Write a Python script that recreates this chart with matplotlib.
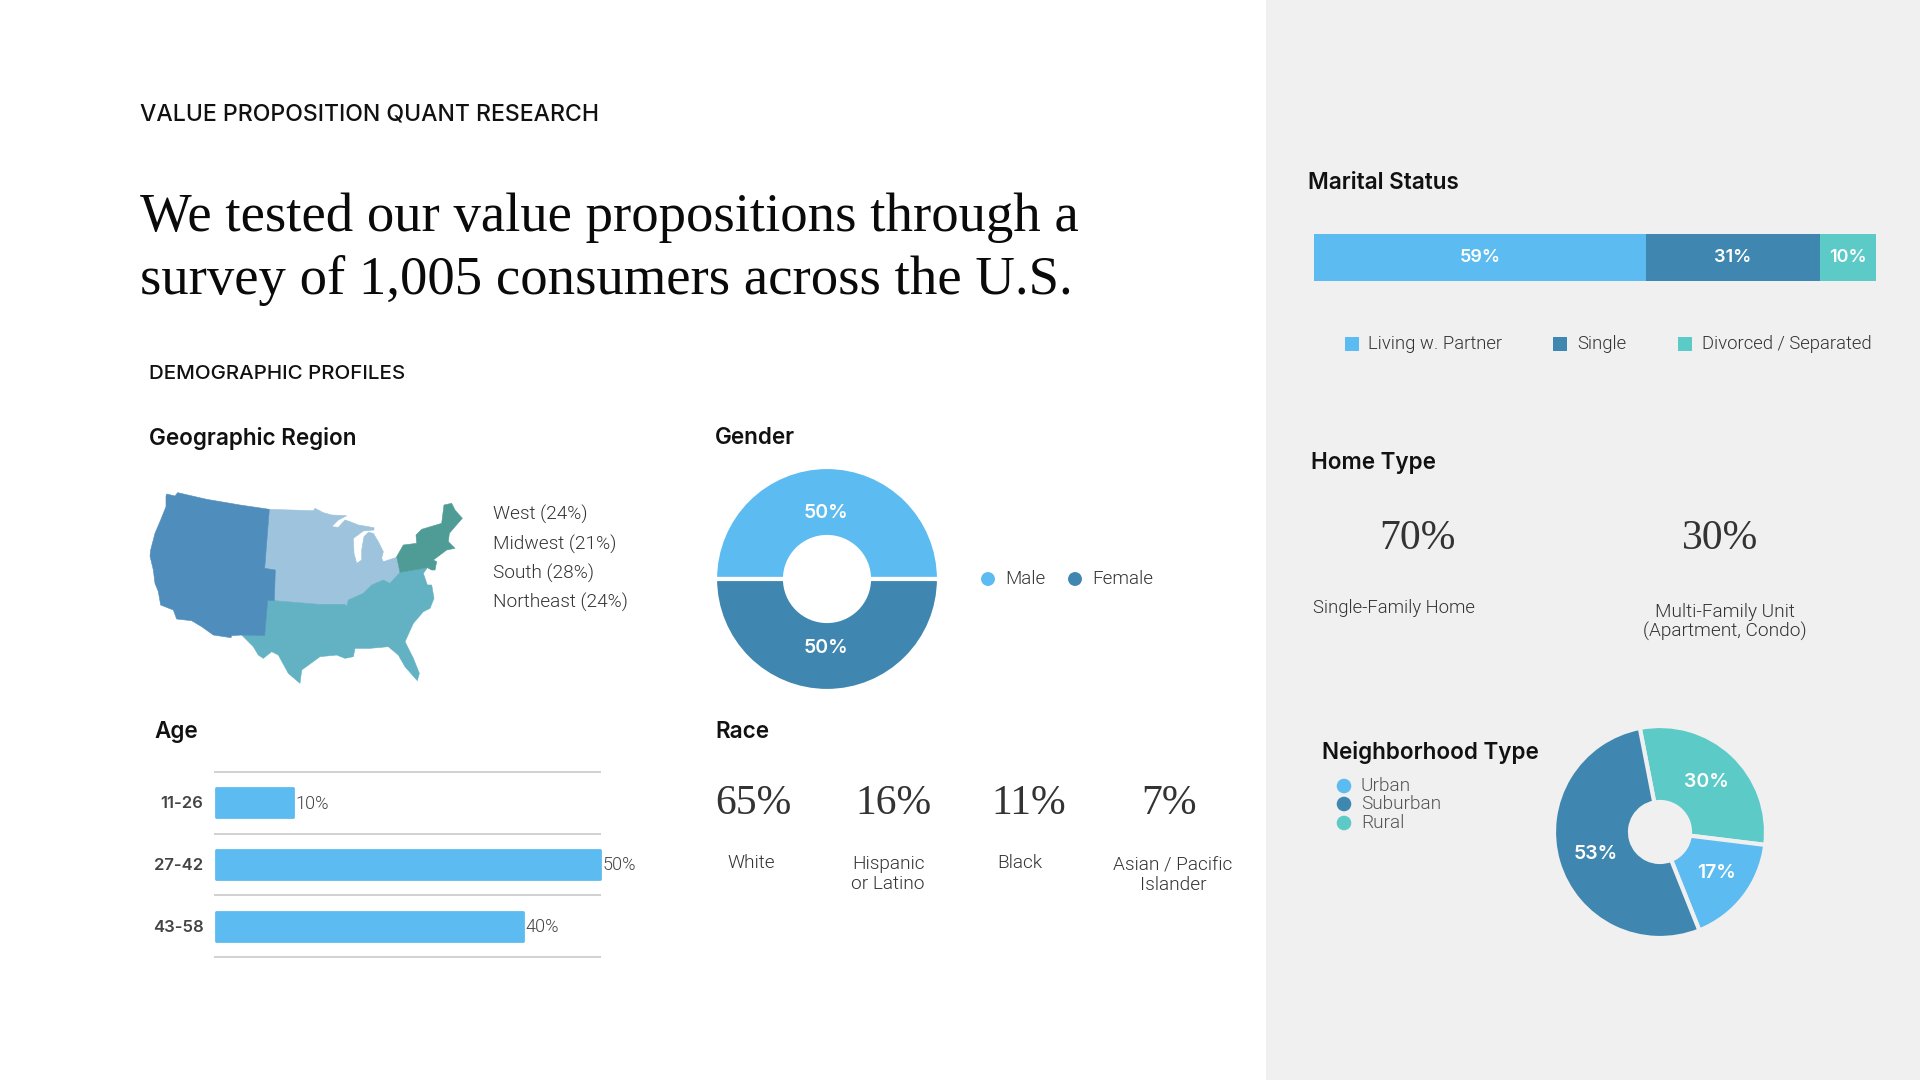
import matplotlib
matplotlib.use("Agg")
import matplotlib.pyplot as plt
from matplotlib.patches import Polygon, Rectangle

SANS = "Roboto"
HEAD = "Inter"
SERIF = "Liberation Serif"
W, H = 1920, 1080

# ---- data
age_labels = ["11-26", "27-42", "43-58"]
age_values = [10, 50, 40]
marital_labels = ["Living w. Partner", "Single", "Divorced / Separated"]
marital_values = [59, 31, 10]
gender_labels = ["Male", "Female"]
gender_values = [50, 50]
race_labels = ["White", "Hispanic\nor Latino", "Black", "Asian / Pacific\nIslander"]
race_values = ["65%", "16%", "11%", "7%"]
region_labels = ["West (24%)", "Midwest (21%)", "South (28%)", "Northeast (24%)"]
neighborhood_labels = ["Rural", "Urban", "Suburban"]
neighborhood_values = [30, 17, 53]
home_values = ["70%", "30%"]

map_west = [(108,78),(110,72),(135,78),(143,68),(230,88),(330,105),(418,118),(404,295),(436,300),(433,392),
            (413,392),(404,497),(335,495),(305,497),(303,503),(250,495),(215,470),(185,452),(140,447),(130,420),
            (92,405),(85,365),(75,340),(70,300),(60,258),(62,240),(75,190),(92,150),(108,110)]
map_midwest = [(418,118),(550,122),(555,115),(580,128),(605,135),(650,137),(625,150),(605,170),(625,172),(645,150),
               (660,155),(685,165),(732,173),(732,180),(700,183),(670,205),(672,250),(680,280),(695,270),(695,240),
               (702,200),(715,187),(730,190),(745,215),(760,245),(755,265),(760,275),(800,262),(810,307),(780,340),
               (760,330),(725,345),(700,370),(655,390),(650,410),(645,403),(565,403),(433,392),(436,300),(404,295)]
map_south = [(433,392),(565,403),(645,403),(650,410),(655,390),(700,370),(725,345),(760,330),(780,340),(810,307),
             (892,293),(880,310),(892,345),(905,345),(912,385),(900,415),(880,425),(850,460),(825,515),(850,565),
             (868,610),(862,632),(825,590),(805,555),(775,530),(720,535),(675,535),(670,560),(645,565),(620,555),
             (570,560),(515,600),(510,640),(475,610),(445,555),(425,545),(400,565),(385,555),(370,530),(335,495),
             (404,497),(413,392)]
map_northeast = [(800,260),(820,225),(860,220),(858,195),(875,178),(935,160),(942,105),(965,100),(975,120),(997,145),
                 (975,170),(958,190),(955,215),(975,235),(950,240),(930,255),(910,270),(920,275),(915,300),(905,300),
                 (892,293),(810,307)]

# ---- styles
LIGHT, MID, TEAL, PANEL = "#5CBBF0", "#3F87B0", "#5CCBC8", "#F0F0F0"
DARK = "#111111"
BODY = 13.7
BW = 300

fig = plt.figure(figsize=(19.2, 10.8), dpi=100, facecolor="white")

def axpx(x0, y0, x1, y1, **kw):
    return fig.add_axes([x0 / W, 1 - y1 / H, (x1 - x0) / W, (y1 - y0) / H], **kw)

def txt(x, y, s, size=BODY, color="#333333", weight=BW, ha="left", va="center", family=SANS, **kw):
    return fig.text(x / W, 1 - y / H, s, fontsize=size, color=color, weight=weight,
                    ha=ha, va=va, family=family, **kw)

bg = axpx(0, 0, W, H, zorder=0)
bg.set_xlim(0, W); bg.set_ylim(H, 0); bg.axis("off")
bg.add_patch(Rectangle((1266, 0), W - 1266, H, color=PANEL, lw=0))

# headings
txt(140, 115, "VALUE PROPOSITION QUANT RESEARCH", size=16.6, color=DARK, weight=500, family=HEAD)
txt(140, 231, "We tested our value propositions through a", size=39.4, color="#0A0A0A", va="baseline", family=SERIF, weight="normal")
txt(140, 294, "survey of 1,005 consumers across the U.S.", size=39.4, color="#0A0A0A", va="baseline", family=SERIF, weight="normal")
txt(149, 374, "DEMOGRAPHIC PROFILES", size=14.8, color=DARK, weight=500, family=HEAD)
for x, y, s in [(149, 438, "Geographic Region"), (715, 438, "Gender"), (154, 732, "Age"), (715, 732, "Race"),
                (1308, 183, "Marital Status"), (1311, 463, "Home Type"), (1322, 752, "Neighborhood Type")]:
    txt(x, y, s, size=16.2, color=DARK, weight=600, family=HEAD)

# map
m = axpx(130, 470, 490, 700)
m.set_xlim(0, 1080); m.set_ylim(690, 0); m.axis("off")
for pts, c in [(map_midwest, "#9EC3DC"), (map_south, "#62B2C4"), (map_west, "#4F8DBC"), (map_northeast, "#4F9C96")]:
    m.add_patch(Polygon(pts, closed=True, fc=c, ec=c, lw=0.4))
for lab, y in zip(region_labels, [514, 544, 573, 602]):
    txt(493, y, lab)

# gender donut
g = axpx(707, 469, 947, 689)
g.pie(gender_values, colors=[LIGHT, MID], startangle=0, radius=112,
      wedgeprops=dict(width=70, edgecolor="white", linewidth=3), frame=False)
g.set_xlim(-120, 120); g.set_ylim(-110, 110); g.set_aspect("equal"); g.axis("off")
txt(826, 513, f"{gender_values[0]}%", size=14, color="white", weight=600, ha="center", family=HEAD)
txt(826, 648, f"{gender_values[1]}%", size=14, color="white", weight=600, ha="center", family=HEAD)
bg.scatter([988, 1075], [579, 579], s=100, c=[LIGHT, MID], lw=0)
txt(1005, 579, gender_labels[0], size=13.5)
txt(1092, 579, gender_labels[1], size=13.5)

# age bars
a = axpx(216, 772, 599.5, 957)
a.barh(range(len(age_values)), age_values, height=0.47, color=LIGHT, edgecolor=LIGHT, linewidth=2, joinstyle="round")
a.set_xlim(0, 50); a.set_ylim(2.5, -0.5)
a.set_xticks([]); a.set_yticks([])
for s in a.spines.values():
    s.set_visible(False)
a.hlines([-0.5, 0.5, 1.5, 2.5], -0.2, 50.2, color="#C9C9C9", lw=1.2, clip_on=False)
for lab, i, v in zip(age_labels, range(3), age_values):
    a.annotate(f"{v}%", (v, i), xytext=(2, -0.7), textcoords="offset points", va="center", fontsize=13,
               color="#444444", family=SANS, weight=BW, annotation_clip=False)
    a.annotate(lab, (0, i), xytext=(-9, -0.7), textcoords="offset points", va="center", ha="right", fontsize=12,
               color="#444444", weight=600, family=HEAD, annotation_clip=False)
for art in a.patches:
    art.set_clip_on(False)

# race
for x, xl, v, lab in zip([753, 893, 1029, 1169], [751, 888, 1020, 1173], race_values, race_labels):
    txt(x, 804, v, size=30, color="#333333", ha="center", family=SERIF, weight="normal")
    two = "\n" in lab
    txt(xl, (875 if lab.startswith("Asian") else 874) if two else 863, lab, ha="center", linespacing=1.1)

# marital bar
b = axpx(1314, 234, 1876, 281)
left = 0
for v, c in zip(marital_values, [LIGHT, MID, TEAL]):
    b.barh(0, v, left=left, height=1, color=c)
    b.text(left + v / 2, 0, f"{v}%", ha="center", va="center", color="white", fontsize=13, weight=600, family=HEAD)
    left += v
b.set_xlim(0, 100); b.set_ylim(-0.5, 0.5); b.axis("off")
bg.scatter([1352, 1560, 1685], [344, 344, 344], s=101, marker="s", c=[LIGHT, MID, TEAL], lw=0)
for x, lab in zip([1368, 1577, 1702], marital_labels):
    txt(x, 344, lab, size=13.3)

# home type
txt(1417, 539, home_values[0], size=30, color="#333333", ha="center", family=SERIF, weight="normal")
txt(1720, 539, home_values[1], size=30, color="#333333", ha="center", family=SERIF, weight="normal")
txt(1313, 608, "Single-Family Home", size=13.3)
txt(1725, 622, "Multi-Family Unit\n(Apartment, Condo)", ha="center", linespacing=1.1)

# neighborhood
n = axpx(1550, 722, 1770, 942)
n.pie(neighborhood_values, colors=[TEAL, LIGHT, MID], startangle=101, counterclock=False, radius=106,
      wedgeprops=dict(width=76, edgecolor=PANEL, linewidth=3), frame=False)
n.set_xlim(-110, 110); n.set_ylim(-110, 110); n.set_aspect("equal"); n.axis("off")
for x, y, v in [(1706, 782, 30), (1716, 873, 17), (1596, 854, 53)]:
    txt(x, y, f"{v}%", size=14, color="white", weight=600, ha="center", family=HEAD)
bg.scatter([1344, 1344, 1344], [786, 804, 823], s=110, c=[LIGHT, MID, TEAL], lw=0)
for y, lab in zip([786, 804, 823], ["Urban", "Suburban", "Rural"]):
    txt(1361, y, lab, color="#555555")

fig.savefig("out.png", dpi=100, facecolor="white")
